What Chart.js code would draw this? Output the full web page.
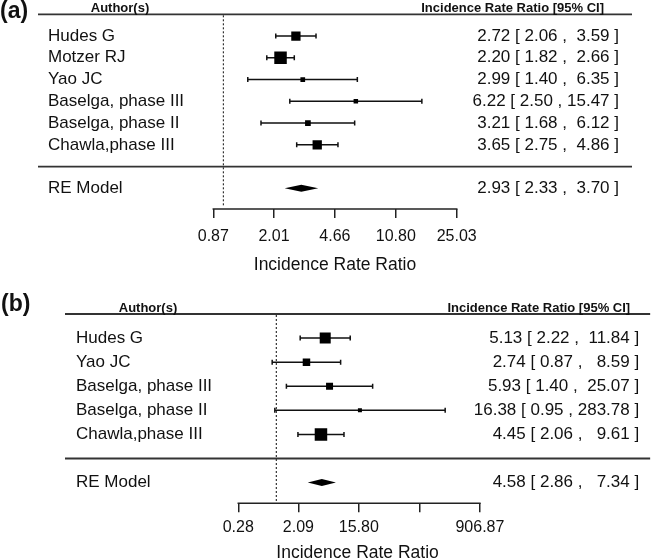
<!DOCTYPE html>
<html>
<head>
<meta charset="utf-8">
<script src="https://cdn.jsdelivr.net/npm/chart.js@4.4.1/dist/chart.umd.min.js"></script>
<style>
html, body { margin: 0; padding: 0; background: #fff; overflow: hidden; }
canvas { display: block; }
</style>
</head>
<body>
<canvas id="chartA" width="659" height="280"></canvas>
<canvas id="chartB" width="659" height="290"></canvas>
<script>
// panel (a)
var studiesA = ["Hudes G", "Motzer RJ", "Yao JC", "Baselga, phase III", "Baselga, phase II", "Chawla,phase III"];
var estA = [2.72, 2.20, 2.99, 6.22, 3.21, 3.65];
var lowerA = [2.06, 1.82, 1.40, 2.50, 1.68, 2.75];
var upperA = [3.59, 2.66, 6.35, 15.47, 6.12, 4.86];
var reA = [2.93, 2.33, 3.70]; // estimate, lower, upper
var tickValsA = [0.87, 2.01, 4.66, 10.80, 25.03];
var tickLabelsA = ["0.87", "2.01", "4.66", "10.80", "25.03"];

// panel (b)
var studiesB = ["Hudes G", "Yao JC", "Baselga, phase III", "Baselga, phase II", "Chawla,phase III"];
var estB = [5.13, 2.74, 5.93, 16.38, 4.45];
var lowerB = [2.22, 0.87, 1.40, 0.95, 2.06];
var upperB = [11.84, 8.59, 25.07, 283.78, 9.61];
var reB = [4.58, 2.86, 7.34];
var tickValsB = [0.28, 2.09, 15.80, 119.7, 906.87];
var tickLabelsB = ["0.28", "2.09", "15.80", "", "906.87"];

var FONT = '"Liberation Sans", Arial, sans-serif';
var INK = '#111';

function fmt(v) { return v.toFixed(2); }

function annotations(est, lo, hi, re) {
  var all = hi.concat([re[2]]).map(fmt);
  var w = Math.max.apply(null, all.map(function (s) { return s.length; }));
  var rows = est.map(function (e, i) { return [e, lo[i], hi[i]]; }).concat([re]);
  return rows.map(function (r) {
    var h = fmt(r[2]);
    while (h.length < w) h = ' ' + h;
    return fmt(r[0]) + ' [ ' + fmt(r[1]) + ' , ' + h + ' ]';
  });
}

var forestPlugin = {
  id: 'forest',
  beforeDatasetsDraw: function (chart, args, o) {
    var ctx = chart.ctx, xs = chart.scales.x, ys = chart.scales.y, area = chart.chartArea;
    var n = o.est.length;
    ctx.save();
    // header and separator rules
    ctx.strokeStyle = '#333';
    ctx.lineWidth = 1.8;
    [0, n + 1].forEach(function (k) {
      var y = ys.getPixelForValue(k);
      ctx.beginPath(); ctx.moveTo(area.left, y); ctx.lineTo(area.right, y); ctx.stroke();
    });
    // reference line at 1
    var x1 = xs.getPixelForValue(1);
    ctx.setLineDash([2, 2]);
    ctx.lineWidth = 1.2;
    ctx.beginPath(); ctx.moveTo(x1, ys.getPixelForValue(0) + 1); ctx.lineTo(x1, area.bottom - 2); ctx.stroke();
    ctx.setLineDash([]);
    // confidence intervals
    ctx.strokeStyle = '#111';
    ctx.lineWidth = 1.5;
    for (var i = 0; i < n; i++) {
      var y = ys.getPixelForValue(i + 1);
      var a = xs.getPixelForValue(o.lo[i]), b = xs.getPixelForValue(o.hi[i]);
      ctx.beginPath();
      ctx.moveTo(a, y); ctx.lineTo(b, y);
      ctx.moveTo(a, y - 2.5); ctx.lineTo(a, y + 2.5);
      ctx.moveTo(b, y - 2.5); ctx.lineTo(b, y + 2.5);
      ctx.stroke();
    }
    // summary diamond
    var yr = ys.getPixelForValue(n + 2);
    ctx.fillStyle = '#000';
    ctx.beginPath();
    ctx.moveTo(xs.getPixelForValue(o.re[1]), yr);
    ctx.lineTo(xs.getPixelForValue(o.re[0]), yr - 3.5);
    ctx.lineTo(xs.getPixelForValue(o.re[2]), yr);
    ctx.lineTo(xs.getPixelForValue(o.re[0]), yr + 3.5);
    ctx.closePath();
    ctx.fill();
    // axis line from first to last tick
    var t = xs.ticks;
    ctx.strokeStyle = '#222';
    ctx.lineWidth = 1.5;
    ctx.beginPath();
    ctx.moveTo(xs.getPixelForValue(t[0].value) - 0.75, area.bottom);
    ctx.lineTo(xs.getPixelForValue(t[t.length - 1].value) + 0.75, area.bottom);
    ctx.stroke();
    ctx.restore();
  },
  afterDraw: function (chart, args, o) {
    var ctx = chart.ctx, ys = chart.scales.y, area = chart.chartArea;
    var n = o.est.length;
    var ann = annotations(o.est, o.lo, o.hi, o.re);
    var names = o.studies.concat(['RE Model']);
    ctx.save();
    ctx.fillStyle = INK;
    ctx.font = '17px ' + FONT;
    ctx.textBaseline = 'middle';
    names.forEach(function (s, i) {
      var k = i < n ? i + 1 : n + 2;
      var y = ys.getPixelForValue(k);
      ctx.textAlign = 'left';
      ctx.fillText(s, area.left + o.labelInset, y);
      ctx.textAlign = 'right';
      ctx.fillText(ann[i], area.right - o.annInset, y);
    });
    // column headers
    var yh = ys.getPixelForValue(0) - 2.5;
    ctx.font = 'bold 13px ' + FONT;
    ctx.textBaseline = 'alphabetic';
    ctx.textAlign = 'center';
    ctx.fillText('Author(s)', area.left + o.labelInset + 72, yh);
    ctx.textAlign = 'right';
    ctx.fillText('Incidence Rate Ratio [95% CI]', area.right - o.headInset, yh);
    // panel letter
    ctx.font = 'bold 23px ' + FONT;
    ctx.textAlign = 'left';
    ctx.textBaseline = 'middle';
    ctx.fillText(o.letter, o.letterX, o.letterY);
    ctx.restore();
  }
};

function makeForest(id, p) {
  var points = p.est.map(function (v, i) { return { x: v, y: i + 1 }; });
  return new Chart(document.getElementById(id).getContext('2d'), {
    type: 'scatter',
    data: {
      datasets: [{
        data: points,
        pointStyle: 'rect',
        pointRadius: p.boxes.map(function (s) { return s / Math.SQRT2; }),
        backgroundColor: '#000',
        borderWidth: 0
      }]
    },
    options: {
      responsive: false,
      animation: false,
      events: [],
      layout: { padding: p.padding },
      plugins: {
        legend: { display: false },
        tooltip: { enabled: false },
        forest: {
          studies: p.studies, est: p.est, lo: p.lo, hi: p.hi, re: p.re,
          labelInset: p.labelInset, annInset: p.annInset, headInset: p.headInset,
          letter: p.letter, letterX: p.letterX, letterY: p.letterY
        }
      },
      scales: {
        x: {
          type: 'logarithmic',
          min: p.xlim[0],
          max: p.xlim[1],
          bounds: 'data',
          afterBuildTicks: function (scale) {
            scale.ticks = p.tickVals.map(function (v) { return { value: v }; });
          },
          afterFit: function (scale) { scale.height = p.axisHeight; },
          ticks: {
            autoSkip: false,
            maxRotation: 0,
            padding: p.tickPad,
            color: INK,
            font: { family: FONT, size: 16 },
            callback: function (v, i) { return p.tickLabels[i]; }
          },
          grid: { drawOnChartArea: false, drawTicks: true, tickLength: 9, color: '#222', lineWidth: 1.5 },
          border: { display: false },
          title: {
            display: true,
            text: 'Incidence Rate Ratio',
            color: INK,
            font: { family: FONT, size: 17.5 },
            padding: { top: 0, bottom: p.titlePad }
          }
        },
        y: { type: 'linear', reverse: true, min: 0, max: p.yMax, display: false }
      }
    },
    plugins: [forestPlugin]
  });
}

makeForest('chartA', {
  studies: studiesA, est: estA, lo: lowerA, hi: upperA, re: reA,
  tickVals: tickValsA, tickLabels: tickLabelsA,
  boxes: [9.3, 12.5, 4.7, 4.5, 5.7, 9.3],
  xlim: [0.0774, 281.2], yMax: 8.95,
  padding: { left: 38, right: 27, top: 14.3, bottom: 0 },
  axisHeight: 71, tickPad: 9, titlePad: 4.5,
  labelInset: 10, annInset: 13, headInset: 28,
  letter: '(a)', letterX: 0, letterY: 11.5
});

makeForest('chartB', {
  studies: studiesB, est: estB, lo: lowerB, hi: upperB, re: reB,
  tickVals: tickValsB, tickLabels: tickLabelsB,
  boxes: [11, 7.5, 7, 4, 12.5],
  xlim: [0.00085, 269900], yMax: 7.86,
  padding: { left: 65, right: 3, top: 34, bottom: 0 },
  axisHeight: 66.7, tickPad: 6, titlePad: 6.5,
  labelInset: 11, annInset: 11, headInset: 20,
  letter: '(b)', letterX: 1, letterY: 25
});
</script>
</body>
</html>
